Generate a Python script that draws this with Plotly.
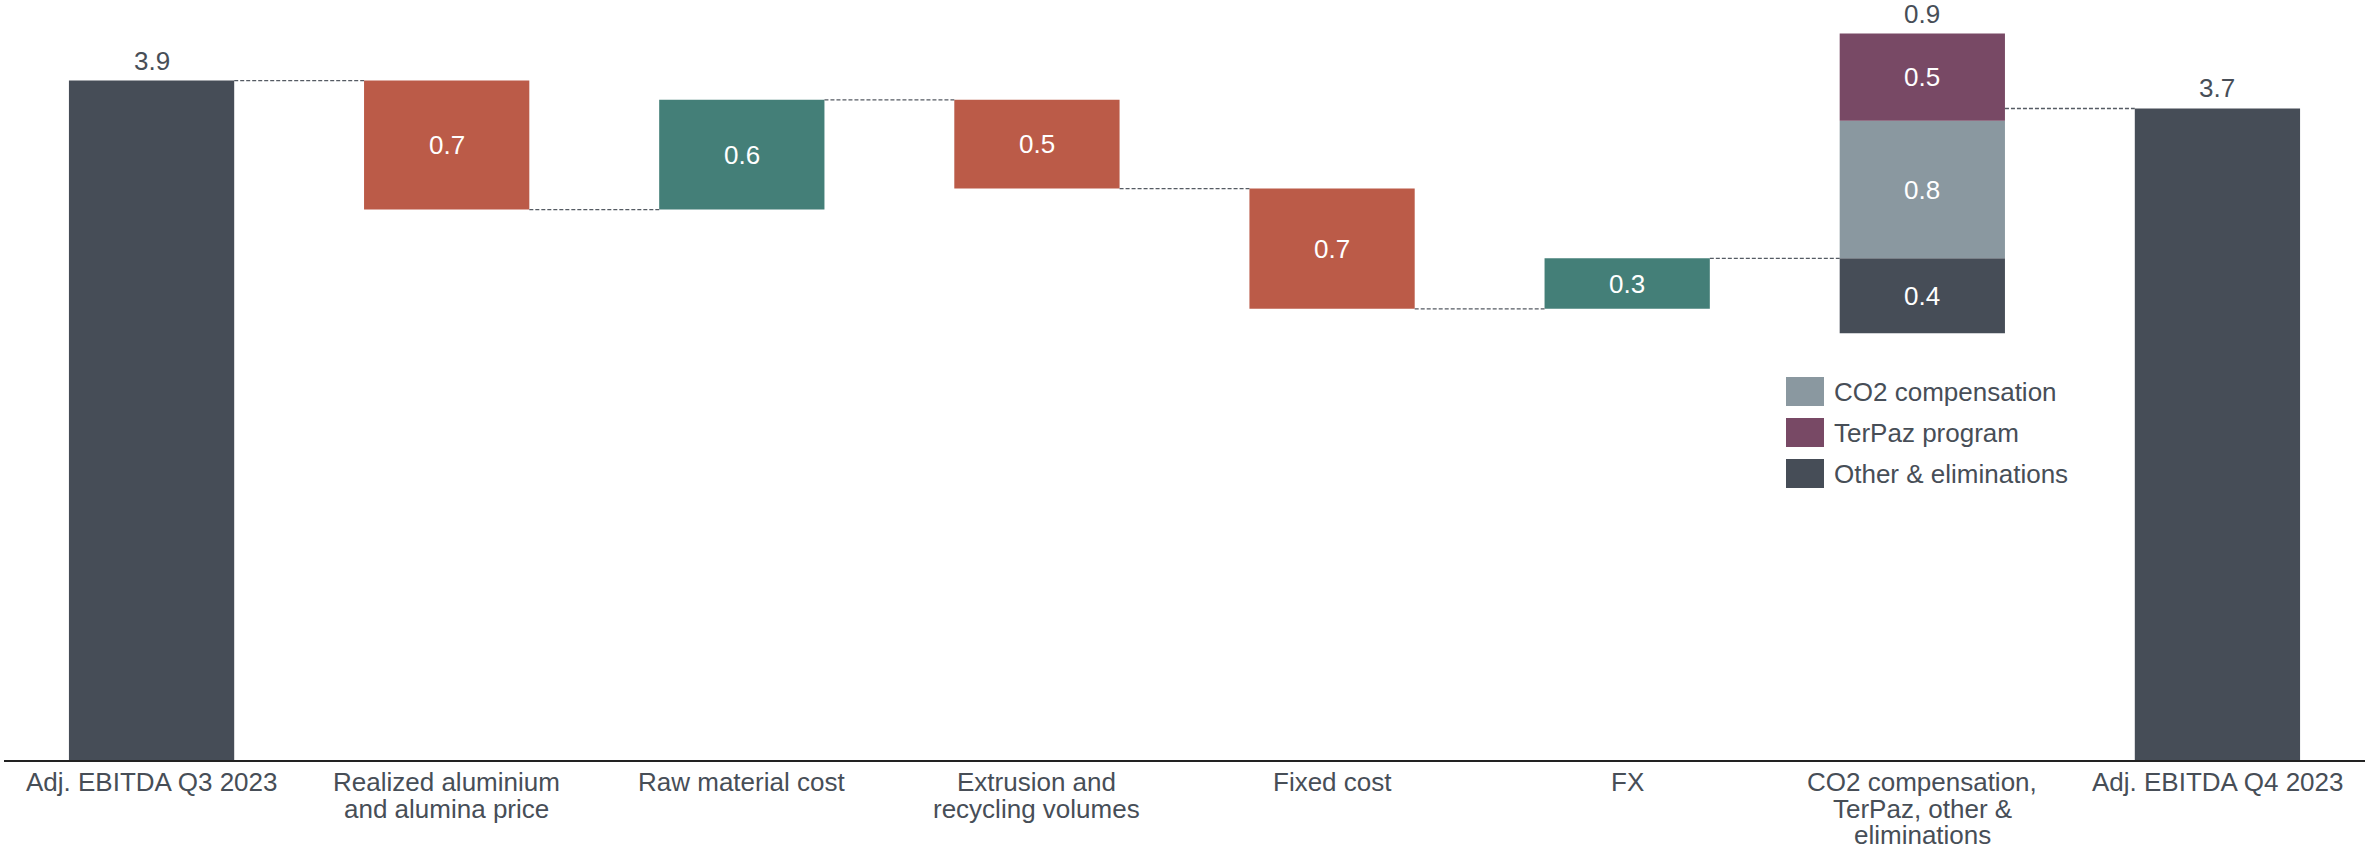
import plotly.graph_objects as go

# Bridge from Q3 to Q4 adjusted EBITDA (NOK billion)
categories = [
    "Adj. EBITDA Q3 2023",
    "Realized aluminium<br>and alumina price",
    "Raw material cost",
    "Extrusion and<br>recycling volumes",
    "Fixed cost",
    "FX",
    "CO2 compensation,<br>TerPaz, other &<br>eliminations",
    "Adj. EBITDA Q4 2023",
]
start_value = 3.90
step_deltas = [-0.74, 0.63, -0.51, -0.69, 0.29]       # categories 1..5
split_names = ["Other & eliminations", "CO2 compensation", "TerPaz program"]
split_values = [-0.43, 0.79, 0.50]                      # stacked column (category 6)

# Colours
C_TOTAL = "#464d57"
C_NEG = "#bb5b48"
C_POS = "#447f78"
C_CO2 = "#8a98a0"
C_TERPAZ = "#784965"
C_TEXT = "#474e57"
split_colors = [C_TOTAL, C_CO2, C_TERPAZ]

FONT = "Liberation Sans, Arial, sans-serif"
FS = 26
BAR_W = 0.56

# Running levels
levels = [start_value]
for d in step_deltas:
    levels.append(round(levels[-1] + d, 2))
net_split = round(sum(split_values), 2)
end_value = round(levels[-1] + net_split, 2)

fig = go.Figure()

# Totals
fig.add_trace(go.Bar(x=[0, 7], y=[start_value, end_value], base=[0, 0],
                     width=BAR_W, marker=dict(color=C_TOTAL, line=dict(width=0)),
                     showlegend=False, hoverinfo="skip"))

# Steps
for i, d in enumerate(step_deltas, start=1):
    lo = min(levels[i - 1], levels[i])
    col = C_POS if d > 0 else C_NEG
    fig.add_trace(go.Bar(x=[i], y=[abs(d)], base=[lo], width=BAR_W,
                         marker=dict(color=col, line=dict(width=0)),
                         showlegend=False, hoverinfo="skip"))

# Stacked split column: negatives stacked downwards, positives upwards
pos_base = levels[-1]
neg_base = levels[-1]
split_segments = []
for name, v, col in zip(split_names, split_values, split_colors):
    if v < 0:
        neg_base = round(neg_base + v, 2)
        b = neg_base
    else:
        b = pos_base
        pos_base = round(pos_base + v, 2)
    split_segments.append((b, abs(v)))
    fig.add_trace(go.Bar(x=[6], y=[abs(v)], base=[b], width=BAR_W,
                         marker=dict(color=col, line=dict(width=0)),
                         name=name, showlegend=False, hoverinfo="skip"))

# Dashed connectors between bars
conn_levels = [start_value] + levels[1:] + [end_value]
for i, lvl in enumerate(conn_levels):
    fig.add_shape(type="line", xref="x", yref="y",
                  x0=i + BAR_W / 2, x1=i + 1 - BAR_W / 2, y0=lvl, y1=lvl,
                  line=dict(color="#555b63", width=1.3, dash="4px,2px"))

ann = []
# Value labels above totals and split column
for x, y, v in [(0, start_value, start_value), (7, end_value, end_value),
                (6, pos_base, net_split)]:
    ann.append(dict(x=x, y=y, xref="x", yref="y", text=f"{abs(v):.1f}",
                    showarrow=False, yanchor="bottom", yshift=3,
                    font=dict(family=FONT, size=FS, color=C_TEXT)))
# Labels inside step bars
for i, d in enumerate(step_deltas, start=1):
    mid = (levels[i - 1] + levels[i]) / 2
    ann.append(dict(x=i, y=mid, xref="x", yref="y", text=f"{abs(d):.1f}",
                    showarrow=False, yanchor="middle",
                    font=dict(family=FONT, size=FS, color="white")))
for (b, h), v in zip(split_segments, split_values):
    ann.append(dict(x=6, y=b + h / 2, xref="x", yref="y", text=f"{abs(v):.1f}",
                    showarrow=False, yanchor="middle",
                    font=dict(family=FONT, size=FS, color="white")))

# Category labels, one annotation per line for tight line spacing
line_offsets = [22, 49, 75]
for i, cat in enumerate(categories):
    for k, line in enumerate(cat.split("<br>")):
        ann.append(dict(x=i, y=0, xref="x", yref="y", text=line, showarrow=False,
                        yanchor="middle", yshift=-line_offsets[k], borderpad=0,
                        font=dict(family=FONT, size=FS, color=C_TEXT)))

# Legend for the split column
W, H = 2369, 852
ML, MR, MT, MB = 4, 4, 10, 92
PW, PH = W - ML - MR, H - MT - MB


def px_x(px):
    return (px - ML) / PW


def px_y(py):
    return (H - MB - py) / PH


legend_items = [("CO2 compensation", C_CO2), ("TerPaz program", C_TERPAZ),
                ("Other & eliminations", C_TOTAL)]
for j, (label, col) in enumerate(legend_items):
    top = 377 + 41 * j
    fig.add_shape(type="rect", xref="paper", yref="paper",
                  x0=px_x(1786), x1=px_x(1824), y0=px_y(top + 29), y1=px_y(top),
                  fillcolor=col, line=dict(width=0))
    ann.append(dict(x=px_x(1832), y=px_y(top + 15), xref="paper", yref="paper",
                    text=label, showarrow=False, xanchor="left", yanchor="middle",
                    font=dict(family=FONT, size=FS, color=C_TEXT)))

fig.update_layout(
    width=W, height=H,
    margin=dict(l=ML, r=MR, t=MT, b=MB),
    paper_bgcolor="white", plot_bgcolor="white",
    barmode="overlay",
    annotations=ann,
    xaxis=dict(range=[-0.5, 7.5], showticklabels=False, ticks="",
               showgrid=False, zeroline=False, showline=True,
               linecolor="#222222", linewidth=2),
    yaxis=dict(range=[0, PH / 174.2], visible=False, showgrid=False,
               zeroline=False),
    font=dict(family=FONT, size=FS, color=C_TEXT),
)

fig.write_html("out.html")
